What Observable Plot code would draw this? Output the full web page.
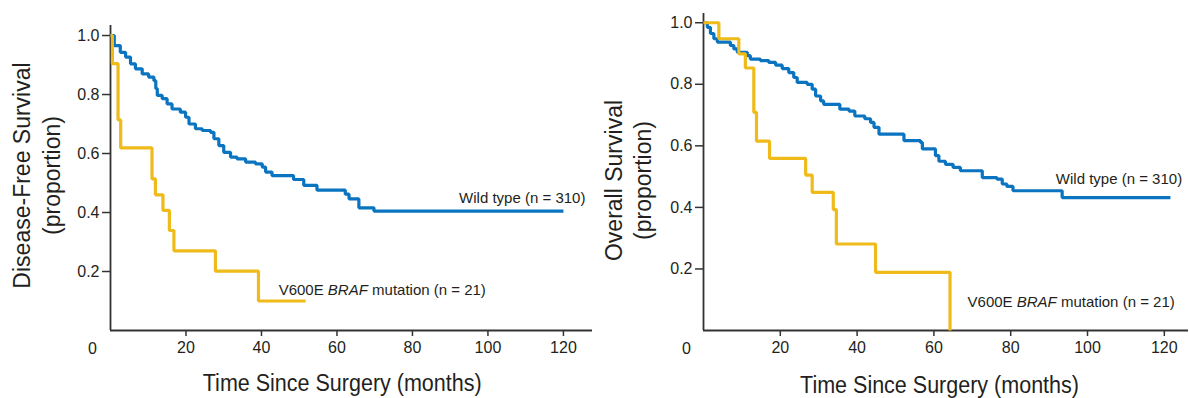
<!DOCTYPE html>
<html><head><meta charset="utf-8">
<script src="https://cdn.jsdelivr.net/npm/d3@7"></script>
<script src="https://cdn.jsdelivr.net/npm/@observablehq/plot@0.6"></script>
<style>
body{margin:0;background:#fff;}
#wrap{position:relative;width:1189px;height:398px;overflow:hidden;background:#fff;}
#wrap svg{position:absolute;top:0;}
</style></head><body><div id="wrap"></div>
<script>
// ---- data ----
const xTicks = [20, 40, 60, 80, 100, 120];
const yTicks = [0.2, 0.4, 0.6, 0.8, 1.0];
const seriesNames = ["Wild type (n = 310)", "V600E BRAF mutation (n = 21)"];
const panelTitlesY = [["Disease-Free Survival", "(proportion)"], ["Overall Survival", "(proportion)"]];
const xTitle = "Time Since Surgery (months)";

// Disease-free survival, wild type
const dfsWildTime = [0, 1.0, 2.6, 4.0, 5.3, 6.6, 8.4, 10.1, 11.5, 12.0, 12.4, 13.7, 15.0, 16.3, 18.5, 19.9, 20.8, 22.5, 24.3, 26.5, 27.4, 28.7, 30.0, 31.8, 33.5, 35.8, 38.4, 40.2, 41.1, 42.8, 48.5, 51.2, 54.7, 62.2, 63.2, 65.8, 69.8, 120];
const dfsWildSurv = [1.0, 0.966, 0.943, 0.927, 0.904, 0.887, 0.870, 0.859, 0.847, 0.820, 0.797, 0.786, 0.768, 0.751, 0.740, 0.723, 0.700, 0.684, 0.678, 0.672, 0.650, 0.627, 0.604, 0.588, 0.582, 0.571, 0.565, 0.554, 0.537, 0.525, 0.512, 0.492, 0.476, 0.462, 0.446, 0.416, 0.405, 0.405];
// Disease-free survival, V600E BRAF
const dfsBrafTime = [0, 0.5, 2.0, 2.7, 11.0, 11.9, 13.9, 15.6, 16.8, 27.8, 39.2, 51.7];
const dfsBrafSurv = [1.0, 0.905, 0.714, 0.619, 0.514, 0.460, 0.407, 0.339, 0.270, 0.201, 0.100, 0.100];
// Overall survival, wild type
const osWildTime = [0, 1.0, 1.8, 2.7, 3.6, 7.0, 7.9, 8.8, 11.4, 12.2, 14.8, 17.0, 18.8, 20.5, 22.2, 23.5, 24.4, 27.0, 28.3, 29.2, 30.5, 31.3, 35.5, 37.9, 39.4, 42.0, 43.5, 44.4, 45.7, 52.2, 56.5, 57.0, 60.4, 61.3, 63.0, 65.0, 66.9, 72.6, 76.4, 77.8, 79.0, 80.6, 93.4, 121.6];
const osWildSurv = [1.0, 0.985, 0.965, 0.948, 0.937, 0.926, 0.915, 0.904, 0.893, 0.882, 0.877, 0.871, 0.862, 0.851, 0.838, 0.822, 0.806, 0.800, 0.784, 0.762, 0.746, 0.735, 0.719, 0.713, 0.697, 0.688, 0.676, 0.660, 0.638, 0.617, 0.611, 0.590, 0.568, 0.550, 0.540, 0.530, 0.519, 0.497, 0.492, 0.476, 0.468, 0.454, 0.432, 0.432];
// Overall survival, V600E BRAF
const osBrafTime = [0, 4.0, 9.2, 10.9, 13.1, 13.8, 17.2, 26.6, 28.3, 33.8, 34.6, 44.8, 64.2];
const osBrafSurv = [1.0, 0.948, 0.899, 0.853, 0.709, 0.615, 0.559, 0.505, 0.449, 0.393, 0.281, 0.189, 0.0];

const BLUE = "#0a74c0", YELLOW = "#eebb1a", AXIS = "#333", TEXT = "#231f20";
const FONT = "'Liberation Sans', Arial, Helvetica, sans-serif";
const wrap = document.getElementById("wrap");

function panel(o) {
  const wild = o.wildT.map((t, i) => ({t, s: o.wildS[i]}));
  const braf = o.brafT.map((t, i) => ({t, s: o.brafS[i]}));
  const wl = wild[wild.length - 1];
  const bl = braf[braf.length - 1];
  const lineStyle = {x: "t", y: "s", curve: "step-after", strokeWidth: 3.2, strokeLinejoin: "miter", strokeLinecap: "butt"};
  const svg = Plot.plot({
    width: o.width, height: 398,
    marginLeft: o.ml, marginRight: o.mr, marginTop: o.mt, marginBottom: 68,
    x: {domain: [0, o.xmax]},
    y: {domain: [0, o.ymax]},
    style: {fontFamily: FONT, fontSize: "15px", color: TEXT, background: "#fff", overflow: "visible"},
    marks: [
      Plot.axisY(yTicks, {tickSize: 8, tickPadding: 3, tickFormat: d3.format(".1f"), label: null, stroke: AXIS, strokeWidth: 1.5, fill: TEXT, fontSize: 16}),
      Plot.axisX(xTicks, {tickSize: 6, tickPadding: 5, label: null, stroke: AXIS, strokeWidth: 1.5, fill: TEXT, fontSize: 16}),
      Plot.ruleX([0], {stroke: AXIS, strokeWidth: 1.8}),
      Plot.ruleY([0], {stroke: AXIS, strokeWidth: 1.8}),
      Plot.text(["0"], {frameAnchor: "bottom-left", textAnchor: "middle", lineAnchor: "middle", dx: o.zdx, dy: 18, fill: TEXT, fontSize: 16}),
      Plot.line(wild, {...lineStyle, stroke: BLUE}),
      Plot.line(braf, {...lineStyle, stroke: YELLOW}),
      Plot.text([wl], {x: "t", y: "s", text: () => seriesNames[0], textAnchor: "end", dx: o.wdx, dy: o.wdy, fill: TEXT, fontSize: 15}),
      Plot.text([bl], {x: "t", y: "s", text: () => seriesNames[1], textAnchor: "start", dx: o.bdx, dy: o.bdy, fill: TEXT, fontSize: 15}),
      Plot.text([o.yt[0]], {frameAnchor: "left", textAnchor: "middle", lineAnchor: "middle", rotate: -90, dx: o.y1dx, dy: o.ydy, fill: TEXT, fontSize: 23}),
      Plot.text([o.yt[1]], {frameAnchor: "left", textAnchor: "middle", lineAnchor: "middle", rotate: -90, dx: o.y2dx, dy: o.ydy, fill: TEXT, fontSize: 23}),
      Plot.text([xTitle], {frameAnchor: "bottom", textAnchor: "middle", lineAnchor: "middle", dx: o.xtdx, dy: o.xtdy, fill: TEXT, fontSize: 23})
    ]
  });
  svg.style.left = o.left + "px";
  wrap.appendChild(svg);
  const sel = d3.select(svg).selectAll("text");
  sel.filter(function() { return this.textContent === seriesNames[1]; })
    .html('V600E <tspan font-style="italic">BRAF</tspan> mutation (n = 21)');
  // condensed look of the large x title
  sel.filter(function() { return this.textContent === xTitle; })
    .each(function() {
      const L = this.getComputedTextLength();
      this.setAttribute("textLength", (L * 0.935).toFixed(1));
      this.setAttribute("lengthAdjust", "spacingAndGlyphs");
    });
}

panel({left: 0, width: 600, ml: 110, mr: 8, mt: 25, xmax: 127.7, ymax: 1.034,
  wildT: dfsWildTime, wildS: dfsWildSurv, brafT: dfsBrafTime, brafS: dfsBrafSurv,
  yt: panelTitlesY[0], zdx: -18, wdx: 22, wdy: -12.5, bdx: -27, bdy: -10.5,
  y1dx: -88, y2dx: -58, ydy: -2.5, xtdx: -9.3, xtdy: 53});

panel({left: 600, width: 589, ml: 103, mr: 1, mt: 13, xmax: 126.3, ymax: 1.03,
  wildT: osWildTime, wildS: osWildSurv, brafT: osBrafTime, brafS: osBrafSurv,
  yt: panelTitlesY[1], zdx: -17, wdx: 11.7, wdy: -18, bdx: 17.5, bdy: -28,
  y1dx: -89, y2dx: -60, ydy: 8.5, xtdx: -6.5, xtdy: 55});
</script>
</body></html>
